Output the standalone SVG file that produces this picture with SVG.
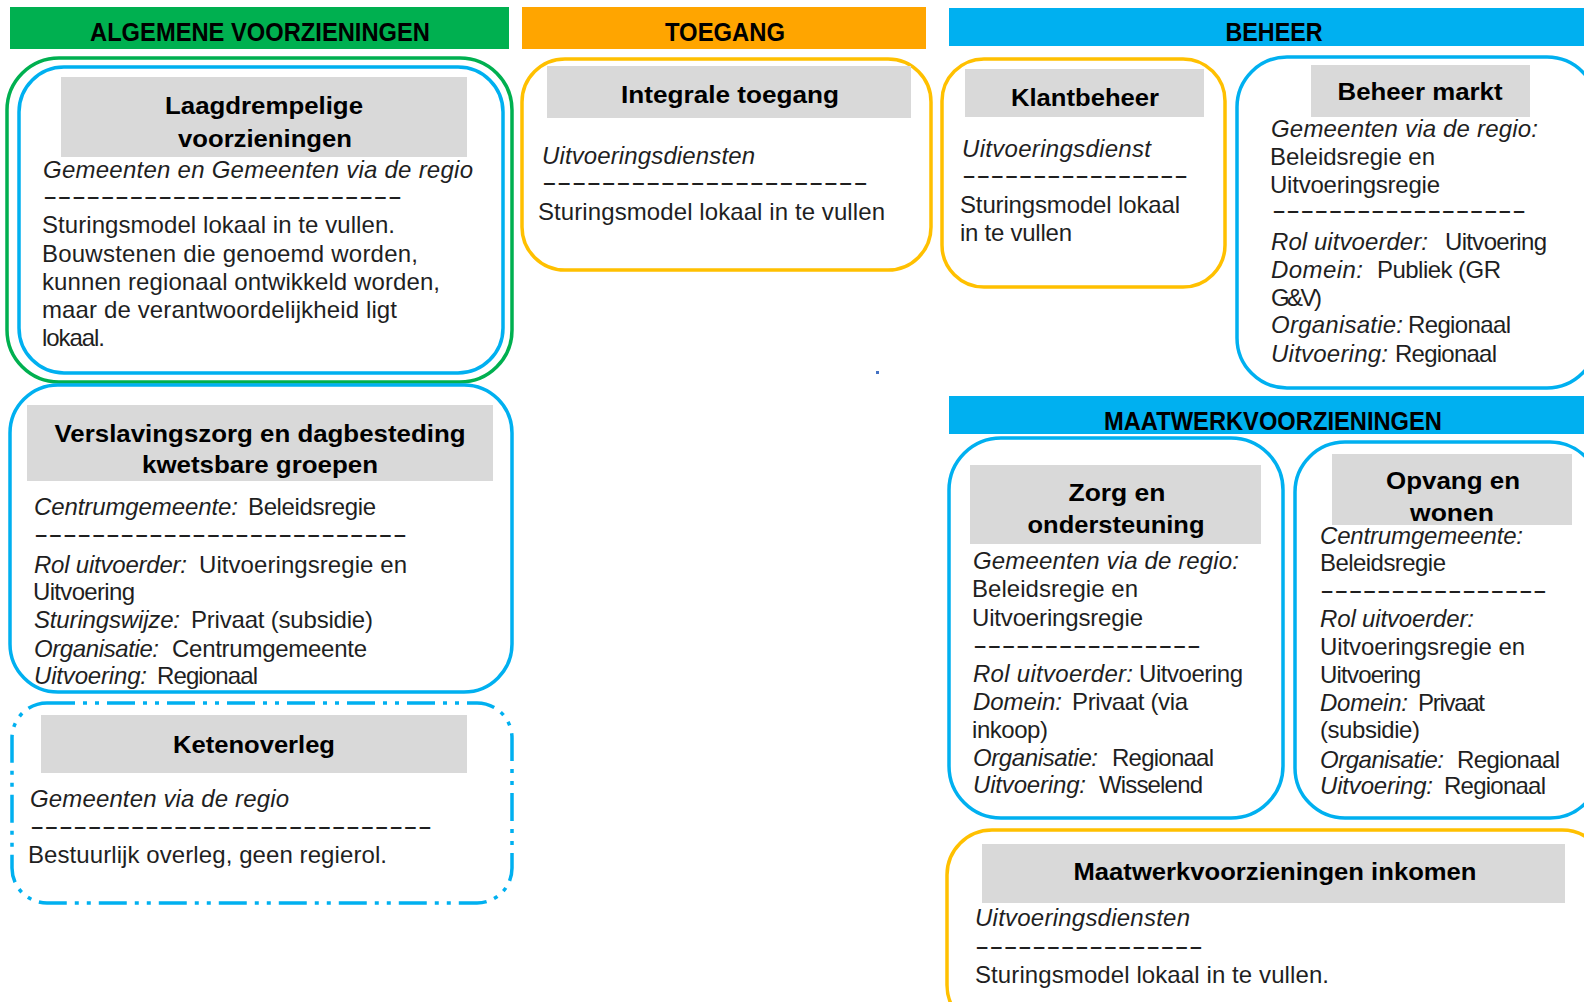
<svg xmlns="http://www.w3.org/2000/svg" width="1584" height="1002" viewBox="0 0 1584 1002">
<style>
.hd{font-family:"Liberation Sans",Arial,sans-serif;font-size:25px;font-weight:bold;fill:#000;text-anchor:middle}
.tt{font-family:"Liberation Sans",Arial,sans-serif;font-size:24px;font-weight:bold;fill:#000;text-anchor:middle}
.b{font-family:"Liberation Sans",Arial,sans-serif;font-size:24px;fill:#1f1f1f}
.i{font-style:italic}
.gb{fill:#d9d9d9}
.bl{fill:#fff;stroke:#00b0f0;stroke-width:3.5}
.or{fill:#fff;stroke:#ffc000;stroke-width:3.5}
.gr{fill:none;stroke:#00b050;stroke-width:3.5}
.dd{fill:none;stroke:#00b0f0;stroke-width:3.5;stroke-dasharray:28 8 4 8 4 8}
</style>
<rect width="1584" height="1002" fill="#fff"/>
<g id="connectors"></g>

<g id="hdr-algemene">
<rect x="10" y="7" width="499" height="42" fill="#00b050"/>
<text class="hd" x="260" y="41" textLength="340" lengthAdjust="spacingAndGlyphs">ALGEMENE VOORZIENINGEN</text>
</g>
<g id="hdr-toegang">
<rect x="522" y="7" width="404" height="42" fill="#ffa500"/>
<text class="hd" x="725" y="41" textLength="120" lengthAdjust="spacingAndGlyphs">TOEGANG</text>
</g>
<g id="hdr-beheer">
<rect x="949" y="8" width="640" height="38" fill="#00b0f0"/>
<text class="hd" x="1274" y="41" textLength="97" lengthAdjust="spacingAndGlyphs">BEHEER</text>
</g>
<g id="hdr-maatwerk">
<rect x="949" y="396" width="640" height="38" fill="#00b0f0"/>
<text class="hd" x="1273" y="430" textLength="338" lengthAdjust="spacingAndGlyphs">MAATWERKVOORZIENINGEN</text>
</g>

<g id="laagdrempelig">
<rect class="gr" x="7" y="58" width="505" height="324" rx="52"/>
<rect class="bl" x="19" y="67" width="484" height="306" rx="45"/>
<rect class="gb" x="61" y="77" width="406" height="80"/>
<text class="tt" x="264" y="114" textLength="198" lengthAdjust="spacingAndGlyphs">Laagdrempelige</text>
<text class="tt" x="265" y="147" textLength="174" lengthAdjust="spacingAndGlyphs">voorzieningen</text>
<text class="b i" x="43" y="178" textLength="430">Gemeenten en Gemeenten via de regio</text>
<text class="b" x="43" y="204" textLength="359" lengthAdjust="spacingAndGlyphs">-------------------------</text>
<text class="b" x="42" y="233" textLength="353">Sturingsmodel lokaal in te vullen.</text>
<text class="b" x="42" y="262" textLength="376">Bouwstenen die genoemd worden,</text>
<text class="b" x="42" y="290" textLength="398">kunnen regionaal ontwikkeld worden,</text>
<text class="b" x="42" y="318" textLength="355">maar de verantwoordelijkheid ligt</text>
<text class="b" x="42" y="346" textLength="63">lokaal.</text>
</g>

<g id="verslavingszorg">
<rect class="bl" x="10" y="385" width="502" height="307" rx="48"/>
<rect class="gb" x="27" y="405" width="466" height="76"/>
<text class="tt" x="260" y="442" textLength="411" lengthAdjust="spacingAndGlyphs">Verslavingszorg en dagbesteding</text>
<text class="tt" x="260" y="473" textLength="236" lengthAdjust="spacingAndGlyphs">kwetsbare groepen</text>
<text class="b i" x="34" y="515" textLength="204">Centrumgemeente:</text>
<text class="b" x="248" y="515" textLength="128">Beleidsregie</text>
<text class="b" x="34" y="542" textLength="373" lengthAdjust="spacingAndGlyphs">--------------------------</text>
<text class="b i" x="34" y="573" textLength="153">Rol uitvoerder:</text>
<text class="b" x="199" y="573" textLength="208">Uitvoeringsregie en</text>
<text class="b" x="33" y="600" textLength="102">Uitvoering</text>
<text class="b i" x="34" y="628" textLength="146">Sturingswijze:</text>
<text class="b" x="191" y="628" textLength="182">Privaat (subsidie)</text>
<text class="b i" x="34" y="657" textLength="125">Organisatie:</text>
<text class="b" x="172" y="657" textLength="195">Centrumgemeente</text>
<text class="b i" x="34" y="684" textLength="113">Uitvoering:</text>
<text class="b" x="157" y="684" textLength="101">Regionaal</text>
</g>

<g id="ketenoverleg">
<rect class="dd" x="12" y="703" width="500" height="200" rx="35"/>
<rect class="gb" x="41" y="715" width="426" height="58"/>
<text class="tt" x="254" y="753" textLength="162" lengthAdjust="spacingAndGlyphs">Ketenoverleg</text>
<text class="b i" x="30" y="807" textLength="259">Gemeenten via de regio</text>
<text class="b" x="30" y="834" textLength="402" lengthAdjust="spacingAndGlyphs">----------------------------</text>
<text class="b" x="28" y="863" textLength="359">Bestuurlijk overleg, geen regierol.</text>
</g>

<g id="integrale-toegang">
<rect class="or" x="522" y="59" width="409" height="211" rx="43"/>
<rect class="gb" x="547" y="66" width="364" height="52"/>
<text class="tt" x="730" y="103" textLength="218" lengthAdjust="spacingAndGlyphs">Integrale toegang</text>
<text class="b i" x="542" y="164" textLength="213">Uitvoeringsdiensten</text>
<text class="b" x="542" y="190" textLength="326" lengthAdjust="spacingAndGlyphs">----------------------</text>
<text class="b" x="538" y="220" textLength="347">Sturingsmodel lokaal in te vullen</text>
</g>
<rect x="876" y="371" width="3" height="3" fill="#4472c4"/>

<g id="klantbeheer">
<rect class="or" x="942" y="59" width="283" height="228" rx="42"/>
<rect class="gb" x="965" y="69" width="239" height="48"/>
<text class="tt" x="1085" y="106" textLength="148" lengthAdjust="spacingAndGlyphs">Klantbeheer</text>
<text class="b i" x="962" y="157" textLength="189">Uitvoeringsdienst</text>
<text class="b" x="962" y="183" textLength="226" lengthAdjust="spacingAndGlyphs">----------------</text>
<text class="b" x="960" y="213" textLength="220">Sturingsmodel lokaal</text>
<text class="b" x="960" y="241" textLength="112">in te vullen</text>
</g>

<g id="beheer-markt">
<rect class="bl" x="1237" y="57" width="360" height="331" rx="50"/>
<rect class="gb" x="1311" y="65" width="219" height="52"/>
<text class="tt" x="1420" y="100" textLength="165" lengthAdjust="spacingAndGlyphs">Beheer markt</text>
<text class="b i" x="1271" y="137" textLength="267">Gemeenten via de regio:</text>
<text class="b" x="1270" y="165" textLength="165">Beleidsregie en</text>
<text class="b" x="1270" y="193" textLength="170">Uitvoeringsregie</text>
<text class="b" x="1272" y="218" textLength="254" lengthAdjust="spacingAndGlyphs">------------------</text>
<text class="b i" x="1271" y="250" textLength="157">Rol uitvoerder:</text>
<text class="b" x="1445" y="250" textLength="102">Uitvoering</text>
<text class="b i" x="1271" y="278" textLength="92">Domein:</text>
<text class="b" x="1377" y="278" textLength="124">Publiek (GR</text>
<text class="b" x="1271" y="306" textLength="51">G&amp;V)</text>
<text class="b i" x="1271" y="333" textLength="132">Organisatie:</text>
<text class="b" x="1408" y="333" textLength="103">Regionaal</text>
<text class="b i" x="1271" y="362" textLength="117">Uitvoering:</text>
<text class="b" x="1395" y="362" textLength="102">Regionaal</text>
</g>

<g id="zorg-ondersteuning">
<rect class="bl" x="949" y="438" width="334" height="380" rx="52"/>
<rect class="gb" x="970" y="465" width="291" height="79"/>
<text class="tt" x="1117" y="501" textLength="97" lengthAdjust="spacingAndGlyphs">Zorg en</text>
<text class="tt" x="1116" y="533" textLength="177" lengthAdjust="spacingAndGlyphs">ondersteuning</text>
<text class="b i" x="973" y="569" textLength="266">Gemeenten via de regio:</text>
<text class="b" x="972" y="597" textLength="166">Beleidsregie en</text>
<text class="b" x="972" y="626" textLength="171">Uitvoeringsregie</text>
<text class="b" x="973" y="653" textLength="228" lengthAdjust="spacingAndGlyphs">----------------</text>
<text class="b i" x="973" y="682" textLength="160">Rol uitvoerder:</text>
<text class="b" x="1139" y="682" textLength="104">Uitvoering</text>
<text class="b i" x="973" y="710" textLength="89">Domein:</text>
<text class="b" x="1072" y="710" textLength="116">Privaat (via</text>
<text class="b" x="972" y="738" textLength="76">inkoop)</text>
<text class="b i" x="973" y="766" textLength="125">Organisatie:</text>
<text class="b" x="1112" y="766" textLength="102">Regionaal</text>
<text class="b i" x="973" y="793" textLength="113">Uitvoering:</text>
<text class="b" x="1099" y="793" textLength="104">Wisselend</text>
</g>

<g id="opvang-wonen">
<rect class="bl" x="1295" y="442" width="305" height="376" rx="50"/>
<rect class="gb" x="1332" y="454" width="240" height="71"/>
<text class="tt" x="1453" y="489" textLength="134" lengthAdjust="spacingAndGlyphs">Opvang en</text>
<text class="tt" x="1452" y="521" textLength="84" lengthAdjust="spacingAndGlyphs">wonen</text>
<text class="b i" x="1320" y="544" textLength="203">Centrumgemeente:</text>
<text class="b" x="1320" y="571" textLength="126">Beleidsregie</text>
<text class="b" x="1320" y="598" textLength="227" lengthAdjust="spacingAndGlyphs">----------------</text>
<text class="b i" x="1320" y="627" textLength="154">Rol uitvoerder:</text>
<text class="b" x="1320" y="655" textLength="205">Uitvoeringsregie en</text>
<text class="b" x="1320" y="683" textLength="101">Uitvoering</text>
<text class="b i" x="1320" y="711" textLength="88">Domein:</text>
<text class="b" x="1418" y="711" textLength="67">Privaat</text>
<text class="b" x="1320" y="738" textLength="100">(subsidie)</text>
<text class="b i" x="1320" y="768" textLength="124">Organisatie:</text>
<text class="b" x="1457" y="768" textLength="103">Regionaal</text>
<text class="b i" x="1320" y="794" textLength="113">Uitvoering:</text>
<text class="b" x="1444" y="794" textLength="102">Regionaal</text>
</g>

<g id="maatwerk-inkomen">
<rect class="or" x="947" y="830" width="660" height="200" rx="45"/>
<rect class="gb" x="982" y="844" width="583" height="59"/>
<text class="tt" x="1275" y="880" textLength="403" lengthAdjust="spacingAndGlyphs">Maatwerkvoorzieningen inkomen</text>
<text class="b i" x="975" y="926" textLength="215">Uitvoeringsdiensten</text>
<text class="b" x="975" y="954" textLength="228" lengthAdjust="spacingAndGlyphs">----------------</text>
<text class="b" x="975" y="983" textLength="354">Sturingsmodel lokaal in te vullen.</text>
</g>
</svg>
